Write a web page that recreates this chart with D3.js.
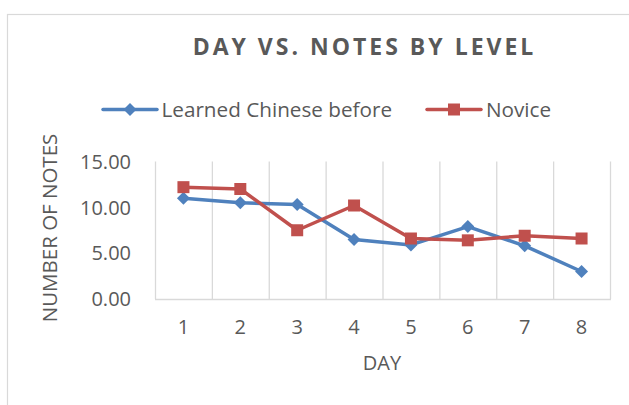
<!DOCTYPE html>
<html><head><meta charset="utf-8">
<script src="https://cdn.jsdelivr.net/npm/d3@7"></script>
<style>html,body{margin:0;padding:0;background:#fff;}svg{display:block;}</style>
</head><body>
<svg id="c" width="629" height="405"></svg>
<script>
const days = [1,2,3,4,5,6,7,8];
const learned = [11.0,10.5,10.3,6.5,5.9,7.9,5.8,3.0];
const novice = [12.2,12.0,7.5,10.2,6.6,6.4,6.9,6.6];
const yTicks = [0,5,10,15];
const seriesNames = ["Learned Chinese before","Novice"];
const colors = ["#4f81bd","#c0504d"];

const svg = d3.select("#c");
const font = "'Open Sans', 'Liberation Sans', sans-serif";
const txt = "#595959";
const grid = "#d9d9d9";

// outer chart border
svg.append("rect").attr("x",7.5).attr("y",14.5).attr("width",640).attr("height",420)
  .attr("fill","#fff").attr("stroke",grid).attr("stroke-width",1.2);

const L=155, R=610, T=161.5, B=299;
const x = d3.scaleBand().domain(days).range([L,R]);
const y = d3.scaleLinear().domain([0,15]).range([B,T]);

// vertical gridlines at band boundaries
const bounds = days.map(d=>x(d)).concat([R]);
svg.append("g").selectAll("line").data(bounds).join("line")
  .attr("x1",d=>d+0.5).attr("x2",d=>d+0.5).attr("y1",T).attr("y2",B)
  .attr("stroke",grid).attr("stroke-width",1.3);
svg.append("line").attr("x1",L).attr("x2",R+1).attr("y1",B+0.5).attr("y2",B+0.5)
  .attr("stroke",grid).attr("stroke-width",1.3);

// y tick labels
svg.append("g").selectAll("text").data(yTicks).join("text")
  .attr("x",131).attr("y",d=>y(d)).attr("dy","0.36em")
  .attr("text-anchor","end").attr("fill",txt)
  .style("font-family",font).style("font-size","20px")
  .text(d=>d3.format(".2f")(d));

// x tick labels
svg.append("g").selectAll("text").data(days).join("text")
  .attr("x",d=>x(d)+x.bandwidth()/2).attr("y",327).attr("dy","0.36em")
  .attr("text-anchor","middle").attr("fill",txt)
  .style("font-family",font).style("font-size","20px")
  .text(d=>d);

// axis titles
svg.append("text").attr("x",382).attr("y",363).attr("dy","0.36em")
  .attr("text-anchor","middle").attr("fill",txt)
  .style("font-family",font).style("font-size","20px").text("DAY");
svg.append("text").attr("transform","translate(49.5,228) rotate(-90)").attr("dy","0.36em")
  .attr("text-anchor","middle").attr("fill",txt)
  .style("font-family",font).style("font-size","20.5px").text("NUMBER OF NOTES");

// title
svg.append("text").attr("x",364.5).attr("y",55)
  .attr("text-anchor","middle").attr("fill",txt)
  .style("font-family",font).style("font-size","23px").style("font-weight","bold")
  .style("letter-spacing","3px").text("DAY VS. NOTES BY LEVEL");

const line = d3.line().x((d,i)=>x(days[i])+x.bandwidth()/2).y(d=>y(d));
const rhombus = {draw(ctx,size){const r=Math.sqrt(size/2);ctx.moveTo(0,-r);ctx.lineTo(r,0);ctx.lineTo(0,r);ctx.lineTo(-r,0);ctx.closePath();}};
const diamond = d3.symbol().type(rhombus).size(84);

// series
const data = [learned, novice];
data.forEach((vals,si)=>{
  svg.append("path").datum(vals).attr("d",line).attr("fill","none")
    .attr("stroke",colors[si]).attr("stroke-width",3.5).attr("stroke-linejoin","round");
  const g = svg.append("g");
  vals.forEach((v,i)=>{
    const cx = x(days[i])+x.bandwidth()/2, cy = y(v);
    if(si===0){
      g.append("path").attr("d",diamond()).attr("transform",`translate(${cx},${cy})`).attr("fill",colors[si]);
    } else {
      g.append("rect").attr("x",cx-6).attr("y",cy-6).attr("width",12).attr("height",12).attr("fill",colors[si]);
    }
  });
});

// legend
const leg = [{x1:103,x2:157,tx:161.5},{x1:427,x2:481,tx:486}];
leg.forEach((l,si)=>{
  const ly=109.5;
  svg.append("line").attr("x1",l.x1).attr("x2",l.x2).attr("y1",ly).attr("y2",ly)
    .attr("stroke",colors[si]).attr("stroke-width",3.5).attr("stroke-linecap","round");
  const mx=(l.x1+l.x2)/2;
  if(si===0) svg.append("path").attr("d",diamond()).attr("transform",`translate(${mx},${ly})`).attr("fill",colors[si]);
  else svg.append("rect").attr("x",mx-6).attr("y",ly-6).attr("width",12).attr("height",12).attr("fill",colors[si]);
  svg.append("text").attr("x",l.tx).attr("y",ly).attr("dy","0.36em").attr("fill",txt)
    .style("font-family",font).style("font-size","20.7px").text(seriesNames[si]);
});
</script>
</body></html>
